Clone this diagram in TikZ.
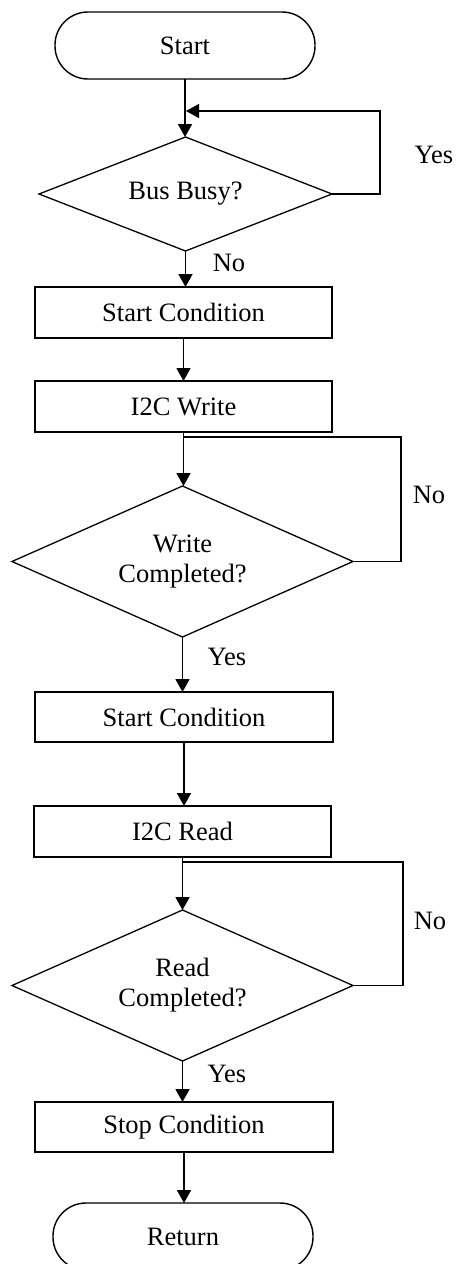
\documentclass[tikz,border=0pt]{standalone}
\usepackage{fontspec}
\setmainfont{Liberation Serif}
\usetikzlibrary{shapes.geometric,arrows.meta}
\begin{document}
\begin{tikzpicture}[x=1pt,y=-1pt,
  font=\fontsize{26.5}{30}\selectfont,
  term/.style={draw,line width=1.4pt,rectangle,rounded corners=33pt,minimum width=260pt,minimum height=67pt,inner sep=0pt,outer sep=0pt},
  proc/.style={draw,line width=1.6pt,rectangle,minimum width=297pt,minimum height=51pt,inner sep=0pt,outer sep=0pt},
  dec/.style={draw,line width=1.3pt,diamond,inner sep=0pt,outer sep=0pt,align=center},
  arr/.style={line width=1.8pt,-{Triangle[length=13pt,width=14pt]}},
  loopline/.style={line width=1.5pt},
  lbl/.style={inner sep=0pt}]
\clip (0,0) rectangle (457,1264);
\fill[white] (0,0) rectangle (457,1264);

\node[term] (start) at (185,45.5) {Start};
\node[dec,minimum width=293pt,minimum height=114pt,aspect=2.57] (bb) at (185.5,194) {Bus Busy?};
\node[proc] (sc1) at (183.5,312.5) {Start Condition};
\node[proc] (w) at (183.5,406.5) {I2C Write};
\node[dec,minimum width=341pt,minimum height=151pt,aspect=2.26] (wc) at (182.5,561.5) {Write\\Completed?};
\node[proc,minimum width=298pt,minimum height=50pt] (sc2) at (184,717) {Start Condition};
\node[proc] (r) at (182.5,831.5) {I2C Read};
\node[dec,minimum width=341pt,minimum height=151pt,aspect=2.26] (rc) at (182.5,985.5) {Read\\Completed?};
\node[proc,minimum width=298pt,minimum height=50pt] (stop) at (184,1127) {Stop Condition};
\node[term] (ret) at (183,1236.5) {Return};

% main flow
\draw[arr] (start.south) -- (start.south |- bb.north);
\draw[arr] (bb.south) -- (bb.south |- sc1.north);
\draw[arr] (sc1.south) -- (sc1.south |- w.north);
\draw[arr] (w.south) -- (w.south |- wc.north);
\draw[arr] (wc.south) -- (wc.south |- sc2.north);
\draw[arr] (sc2.south) -- (sc2.south |- r.north);
\draw[arr] (r.south) -- (r.south |- rc.north);
\draw[arr] (rc.south) -- (rc.south |- stop.north);
\draw[arr] (stop.south) -- (stop.south |- ret.north);

% loops
\coordinate (y1) at (380,111);
\draw[loopline,-{Triangle[length=13pt,width=14pt]},shorten >=1pt] (bb.east) -| (y1) -- (start.south |- y1);
\coordinate (n1) at (401,437);
\draw[loopline] (wc.east) -| (n1) -- (w.south |- n1);
\coordinate (n2) at (403,862);
\draw[loopline] (rc.east) -| (n2) -- (r.south |- n2);

% labels
\node[lbl] (lyes1) at (434,155) {Yes};
\node[lbl] (lno1) at (229,263) {No};
\node[lbl] (lno2) at (429,495) {No};
\node[lbl] (lyes2) at (227,657) {Yes};
\node[lbl] (lno3) at (430,921) {No};
\node[lbl] (lyes3) at (227,1074) {Yes};
\end{tikzpicture}
\end{document}
